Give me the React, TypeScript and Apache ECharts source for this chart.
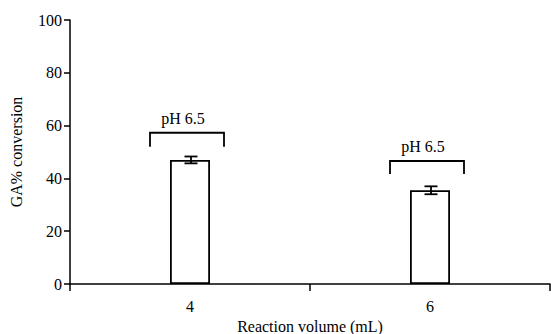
import React, { useEffect, useRef } from "react";
import * as echarts from "echarts";

const categories = ["4", "6"];
const values = [47, 35.5];
const errors = [1.3, 1.5];
const bracketTop = [57.3, 46.6];
const bracketBottom = [52, 41.7];
const bracketLabels = ["pH 6.5", "pH 6.5"];
const yTicks = { min: 0, max: 100, interval: 20 };

const FONT = "Liberation Serif";

export default function App() {
  const ref = useRef<HTMLDivElement>(null);
  useEffect(() => {
    const chart = echarts.init(ref.current!, null, { renderer: "svg" });
    const errData = values.map((v, i) => [i, v - errors[i], v + errors[i]]);
    const brData = bracketTop.map((t, i) => [i, t, bracketBottom[i], bracketLabels[i]]);
    chart.setOption({
      animation: false,
      backgroundColor: "#fff",
      textStyle: { fontFamily: FONT },
      grid: { left: 70, right: 1, top: 20, bottom: 50, outerBoundsMode: "none", containLabel: false },
      xAxis: {
        type: "category",
        data: categories,
        boundaryGap: true,
        name: "Reaction volume (mL)",
        nameLocation: "middle",
        nameGap: 32,
        nameTextStyle: { fontFamily: FONT, fontSize: 16, color: "#000" },
        axisLine: { lineStyle: { color: "#000", width: 1.5 } },
        axisTick: { show: true, length: 7, lineStyle: { color: "#000", width: 1.5 }, alignWithLabel: false },
        axisLabel: { fontFamily: FONT, fontSize: 16, color: "#000", margin: 14 },
        splitLine: { show: false },
      },
      yAxis: {
        type: "value",
        min: yTicks.min,
        max: yTicks.max,
        interval: yTicks.interval,
        name: "GA% conversion",
        nameLocation: "middle",
        nameGap: 46,
        nameRotate: 90,
        nameTextStyle: { fontFamily: FONT, fontSize: 16, color: "#000" },
        axisLine: { show: true, lineStyle: { color: "#000", width: 1.5 } },
        axisTick: { show: true, length: 6, lineStyle: { color: "#000", width: 1.5 } },
        axisLabel: { fontFamily: FONT, fontSize: 16, color: "#000", margin: 8 },
        splitLine: { show: false },
      },
      series: [
        {
          type: "bar",
          data: values,
          barWidth: 40,
          itemStyle: { color: "#fff", borderColor: "#000", borderWidth: 1.8 },
          z: 2,
        },
        {
          type: "custom",
          data: errData,
          z: 3,
          renderItem: (params: any, api: any) => {
            const x = api.value(0);
            const lo = api.coord([x, api.value(1)]);
            const hi = api.coord([x, api.value(2)]);
            const cx = lo[0] + 1;
            const hw = 6.5;
            const style = { stroke: "#000", lineWidth: 1.8 };
            return {
              type: "group",
              children: [
                { type: "line", shape: { x1: cx, y1: lo[1], x2: cx, y2: hi[1] }, style },
                { type: "line", shape: { x1: cx - hw, y1: lo[1], x2: cx + hw, y2: lo[1] }, style },
                { type: "line", shape: { x1: cx - hw, y1: hi[1], x2: cx + hw, y2: hi[1] }, style },
              ],
            };
          },
        },
        {
          type: "custom",
          data: brData,
          z: 3,
          renderItem: (params: any, api: any) => {
            const x = api.value(0);
            const top = api.coord([x, api.value(1)]);
            const bot = api.coord([x, api.value(2)]);
            const cx = top[0] - 3;
            const hw = 37;
            const style = { stroke: "#000", lineWidth: 1.8, fill: "none" };
            return {
              type: "group",
              children: [
                {
                  type: "polyline",
                  shape: {
                    points: [
                      [cx - hw, bot[1]],
                      [cx - hw, top[1]],
                      [cx + hw, top[1]],
                      [cx + hw, bot[1]],
                    ],
                  },
                  style,
                },
                {
                  type: "text",
                  style: {
                    text: brData[params.dataIndex][3],
                    x: cx - 4,
                    y: top[1] - 6,
                    align: "center",
                    verticalAlign: "bottom",
                    fontFamily: FONT,
                    fontSize: 16,
                    fill: "#000",
                  },
                },
              ],
            };
          },
        },
      ],
    });
    return () => chart.dispose();
  }, []);
  return (
    <div
      ref={ref}
      style={{ position: "fixed", left: 0, top: 0, width: 551, height: 334 }}
    />
  );
}
